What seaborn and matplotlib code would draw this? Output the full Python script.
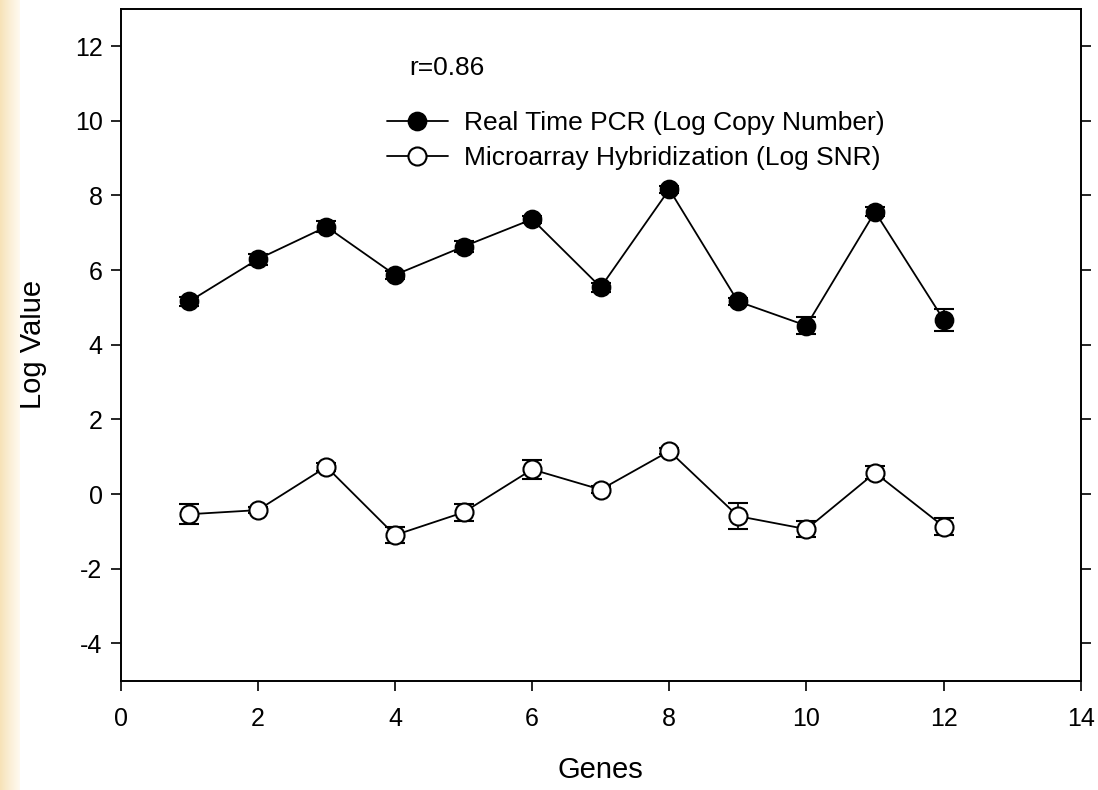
import numpy as np
import pandas as pd
import matplotlib
matplotlib.use("Agg")
import matplotlib.pyplot as plt
import seaborn as sns

# values
genes = [1, 2, 3, 4, 5, 6, 7, 8, 9, 10, 11, 12]
pcr = [5.16, 6.29, 7.16, 5.87, 6.63, 7.36, 5.54, 8.16, 5.16, 4.51, 7.56, 4.67]
pcr_err = [0.12, 0.15, 0.15, 0.1, 0.15, 0.1, 0.12, 0.1, 0.1, 0.22, 0.12, 0.3]
micro = [-0.54, -0.43, 0.73, -1.1, -0.49, 0.66, 0.12, 1.15, -0.59, -0.94, 0.57, -0.87]
micro_err = [0.27, 0.08, 0.1, 0.21, 0.23, 0.26, 0.1, 0.08, 0.34, 0.21, 0.17, 0.23]

pcr_label = "Real Time PCR (Log Copy Number)"
micro_label = "Microarray Hybridization (Log SNR)"

sns.set_style("ticks")
plt.rcParams['font.family'] = ['Liberation Sans', 'DejaVu Sans']
plt.rcParams['axes.unicode_minus'] = False
plt.rcParams['text.color'] = 'black'
plt.rcParams['axes.labelcolor'] = 'black'

fig = plt.figure(figsize=(10.98, 7.90), dpi=100)
ax = fig.add_axes([0.1099, 0.1383, 0.8744, 0.8507])

# beige strip at the left edge of the image
strip = fig.add_axes([0, 0, 0.018, 1])
grad = np.linspace(0, 1, 50).reshape(1, -1)
strip.imshow(grad, aspect="auto", cmap=matplotlib.colors.LinearSegmentedColormap.from_list(
    "beige", ["#F7E2B8", "#FBEFD6", "#FFFAF0"]), extent=[0, 1, 0, 1])
strip.axis("off")

df = pd.DataFrame({"gene": genes, "pcr": pcr, "micro": micro})

sns.lineplot(data=df, x="gene", y="pcr", ax=ax, color="black", lw=1.3,
             marker="o", markersize=13, markerfacecolor="black",
             markeredgecolor="black", markeredgewidth=1.2, label=pcr_label, zorder=3)
sns.lineplot(data=df, x="gene", y="micro", ax=ax, color="black", lw=1.3,
             marker="o", markersize=13, markerfacecolor="white",
             markeredgecolor="black", markeredgewidth=1.5, label=micro_label, zorder=3)

ax.errorbar(genes, pcr, yerr=pcr_err, fmt="none", ecolor="black",
            elinewidth=1.2, capsize=7, capthick=1.5, zorder=2)
ax.errorbar(genes, micro, yerr=micro_err, fmt="none", ecolor="black",
            elinewidth=1.2, capsize=7, capthick=1.5, zorder=2)

ax.set_xlim(0, 14)
ax.set_ylim(-5, 13)
ax.set_xticks(range(0, 15, 2))
ax.set_yticks(range(-4, 13, 2))
ax.tick_params(axis="both", labelsize=18, length=7, width=1.2, direction="out",
               colors="black")
ax.tick_params(axis="x", pad=12)
ax.tick_params(axis="y", pad=6, right=True)
for s in ax.spines.values():
    s.set_visible(True)
    s.set_linewidth(1.4)
    s.set_color("black")

ax.set_xlabel("Genes", fontsize=21, labelpad=18)
ax.set_ylabel("Log Value", fontsize=21, labelpad=20)

fig.text(409 / 1098, 1 - 68 / 790, "r=0.86", fontsize=19, va="center")

ax.legend(loc="upper left", bbox_to_anchor=(387 / 1098, 1 - 111 / 790),
          bbox_transform=fig.transFigure, frameon=False, fontsize=19,
          handlelength=2.3, handletextpad=0.6, labelspacing=0.42, borderaxespad=0,
          borderpad=0)

fig.savefig("out.png", dpi=100)
